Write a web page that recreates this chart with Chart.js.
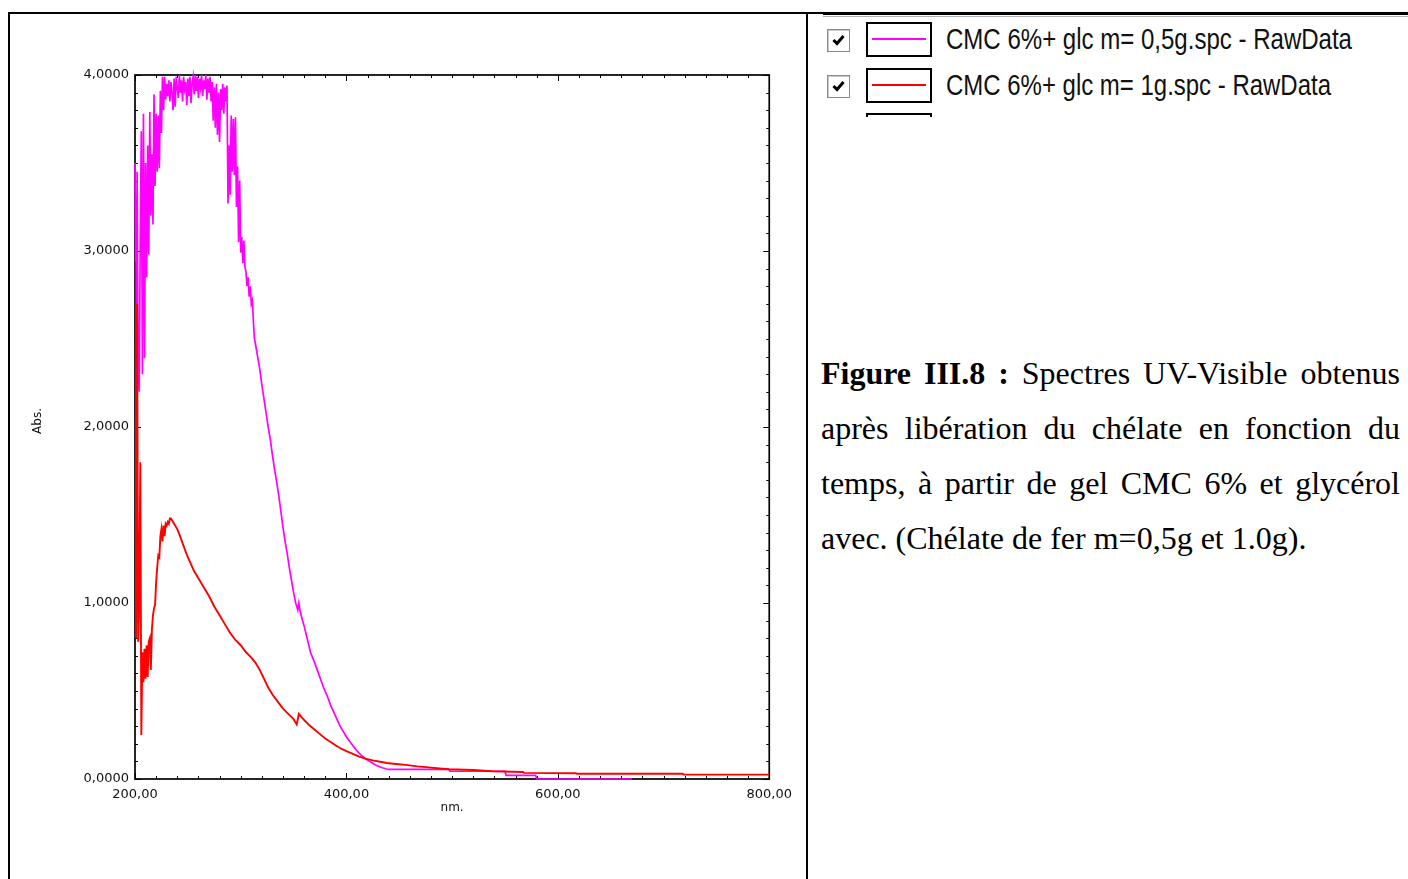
<!DOCTYPE html>
<html>
<head>
<meta charset="utf-8">
<script src="https://cdn.jsdelivr.net/npm/chart.js@4.4.1/dist/chart.umd.min.js"></script>
<style>
  html, body { margin: 0; padding: 0; background: #fff; }
  body { width: 1408px; height: 879px; position: relative; overflow: hidden; }
  #chartBox { position: absolute; left: 0; top: 0; width: 800px; height: 879px; }
  .rule { position: absolute; background: #000; }
  .cb { position: absolute; left: 827px; width: 23px; height: 23px; box-sizing: border-box;
        border: 1px solid #8a8a8a; background: #fff; box-shadow: inset 1px 1px 0 #c8c8c8; }
  .cb svg { position: absolute; left: 3px; top: 3px; }
  .sw { position: absolute; left: 866px; width: 66px; height: 35px; box-sizing: border-box;
        border: 2px solid #000; background: #fff; }
  .sw i { position: absolute; left: 4px; right: 4px; top: 14px; height: 2px; }
  .lgtext { position: absolute; left: 946px; font-family: "Liberation Sans", Arial, sans-serif;
            font-size: 29px; line-height: 29px; color: #111; white-space: nowrap; transform-origin: 0 0; }
  #caption { position: absolute; left: 821px; top: 346px; width: 579px;
             font-family: "Liberation Serif", "Times New Roman", serif; font-size: 32px;
             line-height: 55px; color: #000; }
  #caption div { text-align: justify; text-align-last: justify; white-space: nowrap; }
  #caption div.last { text-align: left; text-align-last: left; }
</style>
</head>
<body>
<div class="rule" style="left:8px;top:12px;width:1400px;height:2px;"></div>
<div class="rule" style="left:8px;top:12px;width:2px;height:867px;"></div>
<div class="rule" style="left:806px;top:12px;width:2px;height:867px;"></div>
<div class="rule" style="left:823px;top:12px;width:585px;height:3px;"></div>
<div class="rule" style="left:823px;top:16px;width:585px;height:1px;background:#b0b0b0;"></div>

<div id="chartBox"><canvas id="c" width="800" height="879"></canvas></div>

<div id="legendArea"></div>

<div id="caption">
  <div><b>Figure III.8 :</b> Spectres UV-Visible obtenus</div>
  <div>après libération du chélate en fonction du</div>
  <div>temps, à partir de gel CMC 6% et glycérol</div>
  <div class="last">avec. (Chélate de fer m=0,5g et 1.0g).</div>
</div>

<script>
// ---------------- data ----------------
const seriesLabels = [
  "CMC 6%+ glc m= 0,5g.spc - RawData",
  "CMC 6%+ glc m= 1g.spc - RawData"
];
const xTitle = "nm.";
const yTitle = "Abs.";
const xTickValues = [200, 400, 600, 800];
const yTickValues = [0, 1, 2, 3, 4];

// series 1 (0,5 g) – magenta
const magentaNm = [
  200,201,202,203,204,205,206,207,208,209,210,211,212,213,214,215,216,217,218,219,
  220,221,222,223,224,225,226,227,228,229,230,231,232,233,234,235,236,237,238,239,
  240,241,242,243,244,245,246,247,248,249,250,251,252,253,254,255,256,257,258,259,
  260,261,262,263,264,265,266,267,268,269,270,271,272,273,274,275,276,277,278,279,
  280,281,282,283,284,285,286,287,288,289,290,291,292,293,294,295,296,297,298,299,
  300,301,302,303,304,305,306,307,308,309,310,311,312,313,314,
  316,318,320,322,324,326,328,330,332,334,336,338,340,342,344,346,348,350,352,353,
  354,355,356,358,360,362,364,366,368,370,373,376,379,382,385,388,391,394,397,400,
  403,406,410,414,418,422,426,430,434,438,440,497,498,550,551,579,580,670
];
const magentaAbs = [
  3.50,2.55,3.45,2.30,2.20,3.10,3.68,2.30,3.78,2.39,3.50,2.85,3.60,2.98,3.79,3.20,3.55,3.15,3.89,3.37,
  3.78,3.45,3.77,3.47,3.91,3.67,3.99,3.80,3.99,3.86,3.95,
  3.88,3.97,3.85,3.96,3.90,3.80,3.98,3.82,3.99,3.93,
  3.87,4.00,3.90,3.97,3.85,3.99,3.92,3.96,3.83,3.98,
  3.88,3.99,3.84,3.95,3.99,3.89,4.00,3.91,3.99,3.87,
  3.98,3.93,4.00,3.88,3.97,3.92,4.00,3.86,3.98,3.90,
  3.99,3.85,3.96,3.74,3.93,3.70,3.95,3.66,3.90,3.62,
  3.92,3.80,3.95,3.78,3.93,3.85,3.94,3.27,3.60,3.32,
  3.77,3.45,3.75,3.43,3.76,3.25,3.48,3.05,3.40,2.99,
  3.08,2.93,3.06,2.91,2.88,2.80,2.85,2.74,2.80,2.70,
  2.72,2.60,2.50,2.47,
  2.40,2.33,2.24,2.16,2.08,2.00,1.93,1.84,1.76,1.69,1.61,1.52,1.43,1.35,1.28,1.20,1.13,1.06,1.00,0.98,
  0.96,1.00,0.96,0.91,0.87,0.82,0.77,0.72,0.69,0.66,0.61,0.56,0.51,0.47,0.42,0.38,0.34,0.30,0.27,0.24,
  0.215,0.19,0.16,0.135,0.115,0.10,0.085,0.073,0.064,0.057,0.055,0.055,0.044,0.044,0.021,0.021,0.0,0.0
];

// series 2 (1 g) – red
const redNm = [
  200,201,202,203,204,205,206,207,208,209,210,211,212,213,214,215,216,217,218,219,
  220,221,222,223,224,225,226,227,228,229,230,231,232,233,234,
  236,238,240,242,245,248,250,253,256,260,265,270,275,280,285,290,295,300,305,310,
  314,318,322,326,330,335,340,345,350,353,355,360,365,370,375,380,385,390,395,400,
  406,412,418,425,432,438,447,456,467,478,488,497,520,538,567,568,617,618,718,719,800
];
const redAbs = [
  2.94,0.80,2.70,0.78,1.00,1.80,0.25,0.72,0.55,0.74,0.57,0.76,0.58,0.78,0.80,0.62,0.85,0.93,0.97,0.99,
  1.12,1.20,1.27,1.26,1.38,1.42,1.35,1.44,1.38,1.45,1.44,1.46,1.45,1.48,1.48,
  1.46,1.44,1.42,1.39,1.34,1.29,1.26,1.22,1.18,1.14,1.09,1.04,0.98,0.93,0.88,0.83,0.79,0.76,0.72,0.69,
  0.66,0.62,0.57,0.52,0.48,0.44,0.40,0.37,0.34,0.31,0.37,0.335,0.305,0.28,0.255,0.23,0.21,0.19,0.172,0.158,
  0.143,0.127,0.116,0.106,0.098,0.091,0.085,0.08,0.072,0.066,0.06,0.055,0.051,0.044,0.04,0.035,0.033,0.03,0.03,0.025,0.025
];

const seriesColors = ["#ff00ff", "#ff0000"];

// ---------------- helpers ----------------
const toPoints = (xs, ys) => xs.map((x, i) => ({ x: x, y: ys[i] }));
const commaFixed = (v, d) => Number(v).toFixed(d).replace('.', ',');

const X_MINOR = 20, X_MAJOR = 200, Y_MINOR = 0.1, Y_MAJOR = 1;

const frameTicks = {
  id: 'frameTicks',
  beforeDatasetsDraw(chart) {
    const { ctx, chartArea: a, scales: { x, y } } = chart;
    ctx.save();
    ctx.strokeStyle = '#000';
    ctx.lineWidth = 1;
    const seg = (x1, y1, x2, y2) => { ctx.beginPath(); ctx.moveTo(x1, y1); ctx.lineTo(x2, y2); ctx.stroke(); };
    const nx = Math.round((x.max - x.min) / X_MINOR);
    for (let i = 0; i <= nx; i++) {
      const v = x.min + i * X_MINOR;
      const px = Math.round(x.getPixelForValue(v)) + 0.5;
      const major = Math.abs((v / X_MAJOR) - Math.round(v / X_MAJOR)) < 1e-6;
      const len = major ? 6 : 3;
      seg(px, a.bottom, px, a.bottom - len);
      seg(px, a.top, px, a.top + len);
    }
    const ny = Math.round((y.max - y.min) / Y_MINOR);
    for (let i = 0; i <= ny; i++) {
      const v = y.min + i * Y_MINOR;
      const py = Math.round(y.getPixelForValue(v)) + 0.5;
      const major = Math.abs((v / Y_MAJOR) - Math.round(v / Y_MAJOR)) < 1e-6;
      const len = major ? 6 : 3;
      seg(a.left, py, a.left + len, py);
      seg(a.right, py, a.right - len, py);
    }
    ctx.lineWidth = 1.7;
    ctx.strokeRect(a.left, a.top, a.right - a.left, a.bottom - a.top);
    ctx.restore();
  },
  afterDraw(chart) {
    // y-axis title, placed beside the y scale
    const { ctx, chartArea: a, scales: { y } } = chart;
    ctx.save();
    ctx.fillStyle = '#111';
    ctx.font = '12px "DejaVu Sans"';
    ctx.textAlign = 'center';
    ctx.textBaseline = 'middle';
    ctx.translate(y.left + 17.5, (a.top + a.bottom) / 2 - 6);
    ctx.rotate(-Math.PI / 2);
    ctx.fillText(yTitle, 0, 0);
    ctx.restore();
  }
};

const tickFont = { family: 'DejaVu Sans', size: 13 };
const titleFont = { family: 'DejaVu Sans', size: 12 };

new Chart(document.getElementById('c'), {
  type: 'line',
  data: {
    datasets: [
      { label: seriesLabels[0], data: toPoints(magentaNm, magentaAbs), borderColor: seriesColors[0],
        borderWidth: 1.7, pointRadius: 0, tension: 0, order: 1, clip: false },
      { label: seriesLabels[1], data: toPoints(redNm, redAbs), borderColor: seriesColors[1],
        borderWidth: 1.9, pointRadius: 0, tension: 0, order: 0 }
    ]
  },
  options: {
    responsive: false,
    animation: false,
    devicePixelRatio: 1,
    layout: { padding: { left: 20, top: 75, right: 28, bottom: 58 } },
    plugins: { legend: { display: false }, tooltip: { enabled: false } },
    scales: {
      x: {
        type: 'linear', min: xTickValues[0], max: xTickValues[xTickValues.length - 1],
        afterBuildTicks: s => { s.ticks = xTickValues.map(v => ({ value: v })); },
        afterFit: s => { s.height = 42; },
        ticks: { callback: v => commaFixed(v, 2), font: tickFont, color: '#111', padding: 8,
                 maxRotation: 0, autoSkip: false },
        grid: { display: false, drawTicks: false },
        border: { display: false },
        title: { display: true, text: xTitle, font: titleFont, color: '#111', padding: { top: 0, bottom: 6 } }
      },
      y: {
        type: 'linear', min: yTickValues[0], max: yTickValues[yTickValues.length - 1],
        afterBuildTicks: s => { s.ticks = yTickValues.map(v => ({ value: v })); },
        afterFit: s => { s.width = 115; },
        ticks: { callback: v => commaFixed(v, 4), font: tickFont, color: '#111', padding: 6 },
        grid: { display: false, drawTicks: false },
        border: { display: false },
        title: { display: false, text: yTitle }
      }
    }
  },
  plugins: [frameTicks]
});

// ---------------- legend panel (HTML) ----------------
const legendArea = document.getElementById('legendArea');
const rowTops = [22, 68];
const textWidths = [406, 385];
const checkSvg = '<svg width="15" height="15" viewBox="0 0 15 15"><path d="M2.5 7 L6 10.5 L12.5 3" stroke="#000" stroke-width="3" fill="none"/></svg>';
seriesLabels.forEach((lab, i) => {
  const top = rowTops[i];
  const cb = document.createElement('div');
  cb.className = 'cb'; cb.style.top = (top + 7) + 'px'; cb.innerHTML = checkSvg;
  legendArea.appendChild(cb);
  const sw = document.createElement('div');
  sw.className = 'sw'; sw.style.top = top + 'px';
  sw.innerHTML = '<i style="background:' + seriesColors[i] + '"></i>';
  legendArea.appendChild(sw);
  const t = document.createElement('div');
  t.className = 'lgtext'; t.style.top = (top + 3) + 'px'; t.textContent = lab;
  legendArea.appendChild(t);
  const w = t.getBoundingClientRect().width;
  t.style.transform = 'scaleX(' + (textWidths[i] / w) + ')';
});
// partially visible third swatch
const sw3 = document.createElement('div');
sw3.className = 'sw'; sw3.style.top = '113px'; sw3.style.height = '4px'; sw3.style.borderBottom = 'none';
legendArea.appendChild(sw3);
</script>
</body>
</html>
